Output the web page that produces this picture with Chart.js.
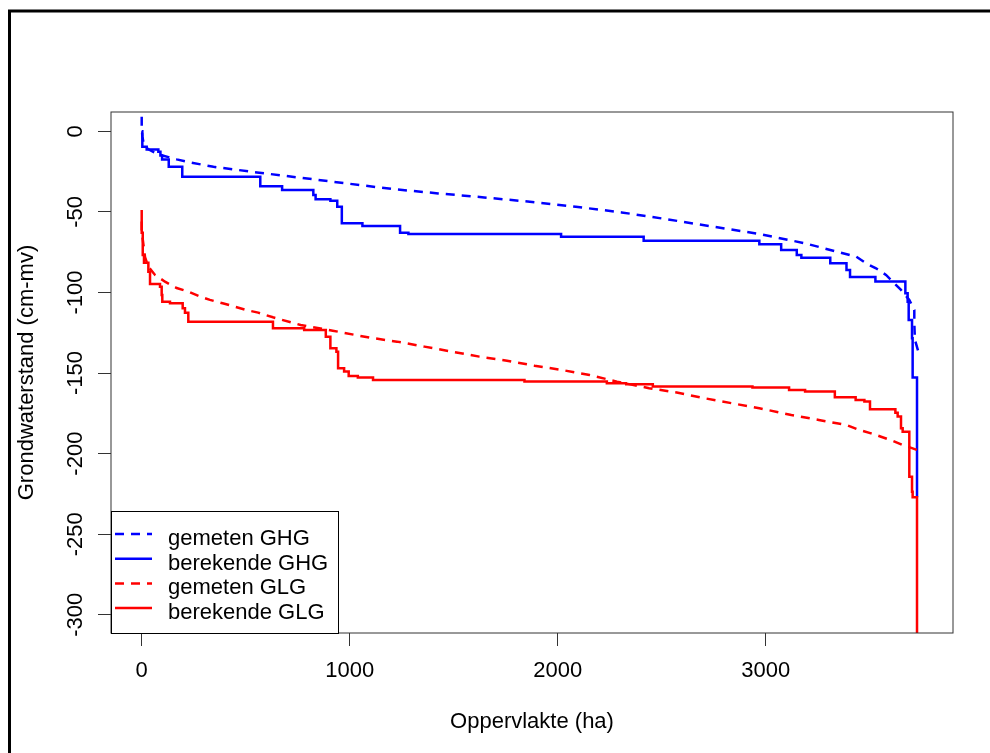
<!DOCTYPE html>
<html>
<head>
<meta charset="utf-8">
<script src="https://cdn.jsdelivr.net/npm/chart.js@4"></script>
<style>
  html, body { margin: 0; padding: 0; background: #fff; }
  canvas { display: block; }
</style>
</head>
<body>
<canvas id="chart" width="990" height="753"></canvas>
<script>
// Axis ticks
const xTicks = [0, 1000, 2000, 3000];
const yTicks = [0, -50, -100, -150, -200, -250, -300];

// Series names (legend order)
const seriesNames = ['gemeten GHG', 'berekende GHG', 'gemeten GLG', 'berekende GLG'];

// gemeten GHG: cumulative area (ha) and groundwater level (cm-mv)
const areaGemetenGHG = [0, 0, 3, 10, 30, 60, 100, 168, 234, 345, 554, 764, 984, 1205, 1425, 1646, 1866, 2087, 2307, 2528, 2748, 2969, 3189, 3343, 3434, 3482, 3530, 3578, 3650, 3690, 3714, 3714, 3717, 3738];
const levelGemetenGHG = [9, 3, -3, -8, -11, -13, -15, -17.4, -19.3, -22, -25.5, -28.8, -32.3, -35.8, -38.5, -41, -43.7, -46.8, -50.3, -54.6, -59.2, -63.7, -69.5, -74.7, -77.7, -81.9, -85, -89.1, -98.4, -104.6, -110.8, -119, -129.4, -138.7];

// berekende GHG: step levels, each level starts at the given area
const areaBerekendeGHG = [0, 3, 24, 80, 90, 98, 130, 195, 570, 675, 825, 836, 907, 940, 962, 1061, 1242, 1282, 2016, 2413, 2969, 3074, 3149, 3171, 3310, 3388, 3405, 3527, 3671, 3682, 3687, 3703, 3706, 3727];
const levelBerekendeGHG = [0, -9.6, -11.2, -12.6, -15, -17.4, -22, -28.2, -34, -36.4, -39.5, -42.2, -43, -46.8, -57.1, -58.8, -62.9, -63.7, -65.4, -67.9, -70.1, -73.6, -76.7, -78.4, -81.9, -86, -90.4, -93.2, -100.5, -105.7, -117, -128.4, -152.8, -227];

// gemeten GLG
const areaGemetenGLG = [0, 0, 8, 16, 32, 64, 112, 168, 224, 278, 328, 389, 448, 504, 560, 631, 764, 918, 1094, 1227, 1359, 1491, 1623, 1756, 1888, 2020, 2153, 2285, 2439, 2572, 2704, 2836, 2969, 3123, 3255, 3388, 3450, 3506, 3554, 3610, 3658, 3706, 3735];
const levelGemetenGLG = [-56, -62, -70, -78, -84, -89.1, -93.3, -97.2, -99.5, -102.4, -104.6, -106.7, -108.8, -110.9, -112.5, -115.4, -120.2, -123.7, -128, -130.5, -133.6, -136.7, -139.8, -142.3, -145.4, -148.1, -151.2, -155.3, -159.4, -162.1, -165.6, -168.7, -171.8, -176, -179.1, -182.2, -185.3, -187.4, -189.5, -192, -194.6, -196.7, -198.1];

// berekende GLG: step levels
const areaBerekendeGLG = [0, 0, 5, 11, 32, 40, 88, 96, 99, 136, 197, 208, 224, 631, 781, 885, 907, 936, 944, 973, 995, 1039, 1112, 1840, 2236, 2329, 2457, 2936, 3112, 3189, 3332, 3432, 3474, 3501, 3623, 3634, 3650, 3658, 3690, 3703, 3706, 3727];
const levelBerekendeGLG = [-48.8, -62.9, -76.7, -81.5, -87.1, -94.7, -96.4, -101.5, -105.7, -106.7, -109.8, -112.5, -118.1, -122.2, -123.3, -127.4, -134.6, -136.7, -147, -149.1, -151.8, -152.8, -154.3, -155.3, -156.3, -157, -158.4, -159, -160.5, -161.5, -165, -166.7, -167.7, -172.5, -174.6, -177, -184.3, -186.4, -214.3, -223.6, -227.1, -312];

const toPoints = (xs, ys) => xs.map((x, i) => ({ x, y: ys[i] }));

const FONT = "'Liberation Sans', Arial, Helvetica, sans-serif";
Chart.defaults.font.family = FONT;
Chart.defaults.font.size = 22;
Chart.defaults.color = '#000';

const BLUE = '#0000ff';
const RED = '#ff0000';
const DASH = [9, 7];

// White page, outer frame, plot box and a boxed legend in the lower-left corner
const framePlugin = {
  id: 'frame',
  beforeDraw(chart) {
    const { ctx, width, height } = chart;
    ctx.save();
    ctx.fillStyle = '#fff';
    ctx.fillRect(0, 0, width, height);
    ctx.restore();
  },
  afterDraw(chart) {
    const { ctx, chartArea: a } = chart;
    ctx.save();
    ctx.strokeStyle = '#333';
    ctx.lineWidth = 1;
    ctx.strokeRect(a.left, a.top, a.right - a.left, a.bottom - a.top);

    const lw = 227, lh = 122;
    const lx = a.left, ly = a.bottom - lh;
    ctx.fillStyle = '#fff';
    ctx.fillRect(lx, ly, lw, lh);
    ctx.strokeStyle = '#000';
    ctx.strokeRect(lx + 0.5, ly + 0.5, lw, lh);
    chart.data.datasets.forEach((ds, i) => {
      const y = ly + 23 + i * 24.7;
      ctx.strokeStyle = ds.borderColor;
      ctx.lineWidth = ds.borderWidth;
      ctx.setLineDash(ds.borderDash || []);
      ctx.beginPath();
      ctx.moveTo(lx + 4, y);
      ctx.lineTo(lx + 41, y);
      ctx.stroke();
      ctx.setLineDash([]);
      ctx.fillStyle = '#000';
      ctx.font = '22px ' + FONT;
      ctx.textBaseline = 'alphabetic';
      ctx.textAlign = 'left';
      ctx.fillText(ds.label, lx + 57, y + 11);
    });

    ctx.strokeStyle = '#000';
    ctx.lineWidth = 3;
    ctx.strokeRect(9.5, 11, 1000, 1000);
    ctx.restore();
  }
};

const lineStyle = { pointRadius: 0, pointHoverRadius: 0, borderWidth: 2.5, fill: false, tension: 0 };

new Chart(document.getElementById('chart'), {
  type: 'line',
  data: {
    datasets: [
      { ...lineStyle, label: seriesNames[0], data: toPoints(areaGemetenGHG, levelGemetenGHG), borderColor: BLUE, borderDash: DASH, order: 4 },
      { ...lineStyle, label: seriesNames[1], data: toPoints(areaBerekendeGHG, levelBerekendeGHG), borderColor: BLUE, stepped: true, order: 3 },
      { ...lineStyle, label: seriesNames[2], data: toPoints(areaGemetenGLG, levelGemetenGLG), borderColor: RED, borderDash: DASH, order: 2 },
      { ...lineStyle, label: seriesNames[3], data: toPoints(areaBerekendeGLG, levelBerekendeGLG), borderColor: RED, stepped: true, order: 1 }
    ]
  },
  options: {
    responsive: false,
    animation: false,
    devicePixelRatio: 1,
    layout: { padding: { left: 0, top: 112, right: 37, bottom: 0 } },
    plugins: { legend: { display: false }, tooltip: { enabled: false } },
    scales: {
      x: {
        type: 'linear',
        min: -147.6,
        max: 3900,
        afterBuildTicks: s => { s.ticks = xTicks.map(v => ({ value: v })); },
        afterFit: s => { s.height = 120; },
        grid: { drawOnChartArea: false, drawTicks: true, tickLength: 13, color: '#333', lineWidth: 1 },
        border: { display: false },
        ticks: { autoSkip: false, maxRotation: 0, minRotation: 0, padding: 12, color: '#000', callback: v => String(v) },
        title: { display: true, text: 'Oppervlakte (ha)', color: '#000', font: { size: 22 }, padding: { top: 0, bottom: 18 } }
      },
      y: {
        type: 'linear',
        min: -311.3,
        max: 12,
        afterBuildTicks: s => { s.ticks = yTicks.map(v => ({ value: v })); },
        afterFit: s => { s.width = 111; },
        grid: { drawOnChartArea: false, drawTicks: true, tickLength: 13, color: '#333', lineWidth: 1 },
        border: { display: false },
        ticks: { autoSkip: false, minRotation: 90, maxRotation: 90, crossAlign: 'center', padding: 0, color: '#000', callback: v => String(v) },
        title: { display: true, text: 'Grondwaterstand (cm-mv)', color: '#000', font: { size: 22 }, padding: { top: 14, bottom: 0 } }
      }
    }
  },
  plugins: [framePlugin]
});
</script>
</body>
</html>
